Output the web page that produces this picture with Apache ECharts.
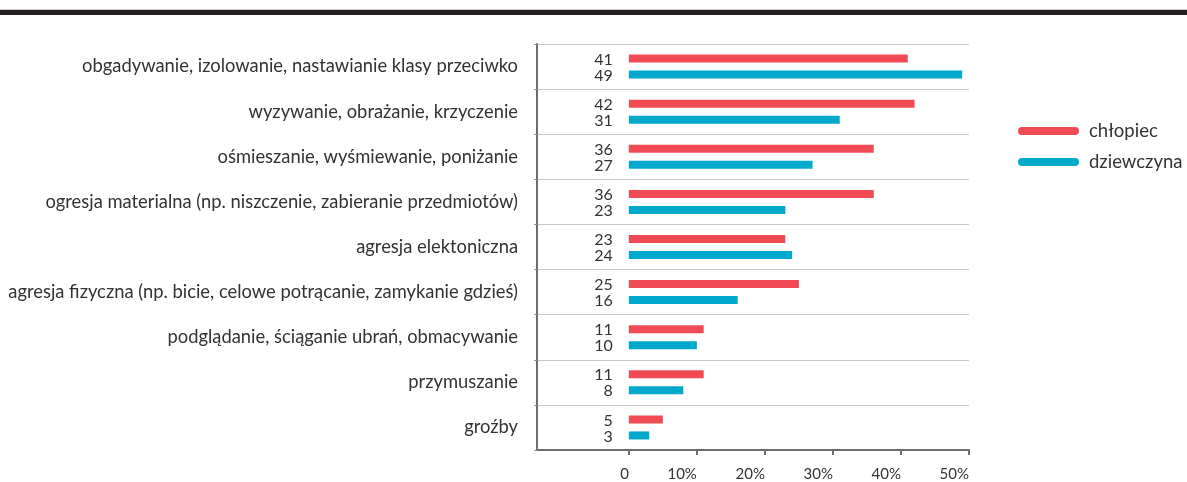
<!DOCTYPE html>
<html>
<head>
<meta charset="utf-8">
<script src="https://cdn.jsdelivr.net/npm/echarts@6/dist/echarts.min.js"></script>
<style>
  html, body { margin: 0; padding: 0; background: #fff; }
  #main { width: 1187px; height: 482px; }
</style>
</head>
<body>
<div id="main"></div>
<script>
    // dane
    var categories = [
        'obgadywanie, izolowanie, nastawianie klasy przeciwko',
        'wyzywanie, obrażanie, krzyczenie',
        'ośmieszanie, wyśmiewanie, poniżanie',
        'ogresja materialna (np. niszczenie, zabieranie przedmiotów)',
        'agresja elektoniczna',
        'agresja fizyczna (np. bicie, celowe potrącanie, zamykanie gdzieś)',
        'podglądanie, ściąganie ubrań, obmacywanie',
        'przymuszanie',
        'groźby'
    ];
    var chlopiec = [41, 42, 36, 36, 23, 25, 11, 11, 5];
    var dziewczyna = [49, 31, 27, 23, 24, 16, 10, 8, 3];
    var ticks = [0, 10, 20, 30, 40, 50];

    var myChart = echarts.init(document.getElementById('main'));

    var pill = 'path://M4,0 H57 A4,4 0 0 1 57,8 H4 A4,4 0 0 1 4,0 Z';

    var option = {
        animation: false,
        textStyle: { fontFamily: 'Lato' },
        graphic: [
            { type: 'rect', shape: { x: 0, y: 9, width: 1187, height: 1 }, style: { fill: '#c8c8c8' } },
            { type: 'rect', shape: { x: 0, y: 10, width: 1187, height: 5 }, style: { fill: '#231f20' } }
        ],
        grid: { left: 537, right: 218, top: 44, bottom: 30 },
        legend: {
            orient: 'vertical',
            left: 1013,
            top: 116,
            itemWidth: 61,
            itemHeight: 8,
            itemGap: 11,
            icon: pill,
            textStyle: { fontFamily: 'Lato', fontSize: 18.5, color: '#333', padding: [0, 0, 0, 5], lineHeight: 20 },
            data: ['chłopiec', 'dziewczyna']
        },
        xAxis: {
            type: 'value',
            min: -13.5,
            max: 50,
            axisLine: { show: true, lineStyle: { color: '#6d6d6d', width: 2 } },
            axisTick: { show: true, customValues: ticks, length: 5, lineStyle: { color: '#6d6d6d', width: 2 } },
            splitLine: { show: false },
            axisLabel: {
                customValues: ticks,
                align: 'right',
                margin: 17,
                fontSize: 15,
                color: '#333',
                formatter: function (v) { return v === 0 ? '0' : v + '%'; }
            }
        },
        yAxis: {
            type: 'category',
            inverse: true,
            data: categories,
            axisLine: { show: true, onZero: false, lineStyle: { color: '#6d6d6d', width: 2 } },
            axisTick: { show: true, length: 3, lineStyle: { color: '#999' } },
            splitLine: { show: true, lineStyle: { color: '#c8c8c8', width: 1 } },
            axisLabel: { fontSize: 18.35, color: '#333', margin: 19 }
        },
        series: [
            {
                name: 'chłopiec',
                type: 'bar',
                data: chlopiec,
                barWidth: 8,
                barGap: '100%',
                itemStyle: { color: '#f04b55' },
                label: { show: true, position: 'left', distance: 16, fontSize: 16, color: '#333', offset: [0, 1] }
            },
            {
                name: 'dziewczyna',
                type: 'bar',
                data: dziewczyna,
                barWidth: 8,
                barGap: '100%',
                itemStyle: { color: '#00a9cc' },
                label: { show: true, position: 'left', distance: 16, fontSize: 16, color: '#333', offset: [0, 1] }
            }
        ]
    };

    myChart.setOption(option);
</script>
</body>
</html>
